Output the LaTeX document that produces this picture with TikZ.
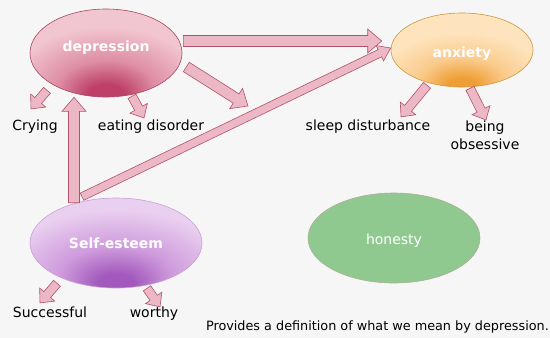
\documentclass[tikz,border=0pt]{standalone}
\usepackage{fontspec}
\setmainfont{DejaVu Sans}
\usetikzlibrary{calc}
\usetikzlibrary{shapes.geometric}

\definecolor{bgcol}{RGB}{246,246,246}
\definecolor{deplight}{RGB}{242,198,208}
\definecolor{depmid}{RGB}{222,142,166}
\definecolor{depdark}{RGB}{190,64,104}
\definecolor{depborder}{RGB}{165,70,98}
\definecolor{anxlight}{RGB}{254,228,190}
\definecolor{anxmid}{RGB}{250,203,140}
\definecolor{anxdark}{RGB}{238,158,52}
\definecolor{anxborder}{RGB}{205,150,60}
\definecolor{selflight}{RGB}{234,208,240}
\definecolor{selfmid}{RGB}{206,154,220}
\definecolor{selfdark}{RGB}{162,88,188}
\definecolor{selfborder}{RGB}{200,160,212}
\definecolor{honfill}{RGB}{143,201,143}
\definecolor{honborder}{RGB}{172,176,150}
\definecolor{arrfill}{RGB}{236,184,198}
\definecolor{arrborder}{RGB}{178,82,108}

\pgfdeclareradialshading{depshade}{\pgfpoint{0bp}{-26bp}}{color(0bp)=(depdark); color(6bp)=(depdark); color(16bp)=(depmid); color(30bp)=(deplight); color(70bp)=(deplight)}
\pgfdeclareradialshading{anxshade}{\pgfpoint{0bp}{-26bp}}{color(0bp)=(anxdark); color(5bp)=(anxdark); color(15bp)=(anxmid); color(28bp)=(anxlight); color(70bp)=(anxlight)}
\pgfdeclareradialshading{selfshade}{\pgfpoint{0bp}{-24bp}}{color(0bp)=(selfdark); color(5bp)=(selfdark); color(16bp)=(selfmid); color(32bp)=(selflight); color(70bp)=(selflight)}

\begin{document}
\begin{tikzpicture}
  [
    x=1pt, y=-1pt,
    every node/.style={font=\fontsize{14}{18}\selectfont}
  ]
  \tikzset{
    bubble/.style = {ellipse, inner sep=0pt, line width=0.6pt, text=white,
                     text height=10.5pt, text depth=3.3pt},
    depstyle/.style = {bubble, shading=depshade, draw=depborder, font=\fontsize{14}{18}\selectfont\bfseries,
                       minimum width=152pt, minimum height=88pt, text depth=13.3pt},
    anxstyle/.style = {bubble, shading=anxshade, draw=anxborder, font=\fontsize{14}{18}\selectfont\bfseries,
                       minimum width=142pt, minimum height=74pt, text height=18.5pt},
    selfstyle/.style = {bubble, shading=selfshade, draw=selfborder, font=\fontsize{14}{18}\selectfont\bfseries,
                        minimum width=172pt, minimum height=90pt, text height=14.5pt},
    honstyle/.style = {bubble, fill=honfill, draw=honborder,
                       minimum width=172pt, minimum height=90pt, text height=16.5pt},
    labelstyle/.style = {inner sep=0pt, text height=10.5pt, text depth=3.3pt},
    arrowshaft/.store in=\arrshaft, arrowhead/.store in=\arrhead, arrowtip/.store in=\arrtip,
    arrowshaft=4.5pt, arrowhead=10pt, arrowtip=11pt,
    blockarrow/.style = {fill=arrfill, draw=arrborder, line width=0.6pt,
      to path={let \p1=(\tikztostart), \p2=(\tikztotarget),
               \n1={atan2(\y2-\y1,\x2-\x1)}, \n2={veclen(\x2-\x1,\y2-\y1)-\arrtip} in
               ($(\p1)+(\n1+90:\arrshaft)$) -- ($(\p1)+(\n1:\n2)+(\n1+90:\arrshaft)$)
               -- ($(\p1)+(\n1:\n2)+(\n1+90:\arrhead)$) -- (\p2)
               -- ($(\p1)+(\n1:\n2)+(\n1-90:\arrhead)$) -- ($(\p1)+(\n1:\n2)+(\n1-90:\arrshaft)$)
               -- ($(\p1)+(\n1-90:\arrshaft)$) -- cycle}},
    bigarrow/.style = {blockarrow, arrowshaft=5.5pt, arrowhead=12pt, arrowtip=14pt},
  }

  \fill[bgcol] (0,0) rectangle (550,338);
  \useasboundingbox (0,0) rectangle (550,338);

  \node (dep) [depstyle] at (106,53) {depression};
  \node (anx) [anxstyle] at (462,50) {anxiety};
  \node (self) [selfstyle] at (116,243) {Self-esteem};
  \node (hon) [honstyle] at (394,238) {honesty};

  \node (cry) [labelstyle] at (35,127) {Crying};
  \node (eat) [labelstyle] at (151,127) {eating disorder};
  \node (sleep) [labelstyle] at (368,127) {sleep disturbance};
  \node (obs) [inner sep=0pt, anchor=north, align=center] at (485,121) {being\\obsessive};
  \node (succ) [labelstyle] at (50,314) {Successful};
  \node (wor) [labelstyle] at (154,314) {worthy};
  \node (note) [labelstyle, anchor=east, font=\fontsize{12.8}{15}\selectfont,
                text height=9.6pt, text depth=3pt] at (549,327) {Provides a definition of what we mean by depression.};

  \coordinate (gap) at (248,106);

  % block arrows
  \draw[bigarrow] ([shift={(1,-12)}]dep.east) to ([shift={(-9,-9)}]anx.west);
  \draw[bigarrow] ([shift={(4,14)}]dep.east) to (gap);
  \draw[blockarrow] ([shift={(-59,-7)}]dep.south) to ([shift={(-4,-11)}]cry.north);
  \draw[blockarrow] ([shift={(26,-1)}]dep.south) to ([shift={(-7,-2)}]eat.north);
  \draw[bigarrow] ([shift={(-42,5)}]self.north) to ([shift={(-32,0)}]dep.south);
  \draw[blockarrow, arrowshaft=4pt, arrowhead=8.5pt, arrowtip=12pt] ([shift={(-34,-1)}]self.north) to ([shift={(0,-2)}]anx.west);
  \draw[blockarrow] ([shift={(-35,-2)}]anx.south) to ([shift={(33,-3)}]sleep.north);
  \draw[blockarrow] ([shift={(8,1)}]anx.south) to ([shift={(1,-1)}]obs.north);
  \draw[blockarrow] ([shift={(-59,-5)}]self.south) to ([shift={(-10,-4)}]succ.north);
  \draw[blockarrow] ([shift={(31,0)}]self.south) to ([shift={(6,0)}]wor.north);
\end{tikzpicture}
\end{document}
